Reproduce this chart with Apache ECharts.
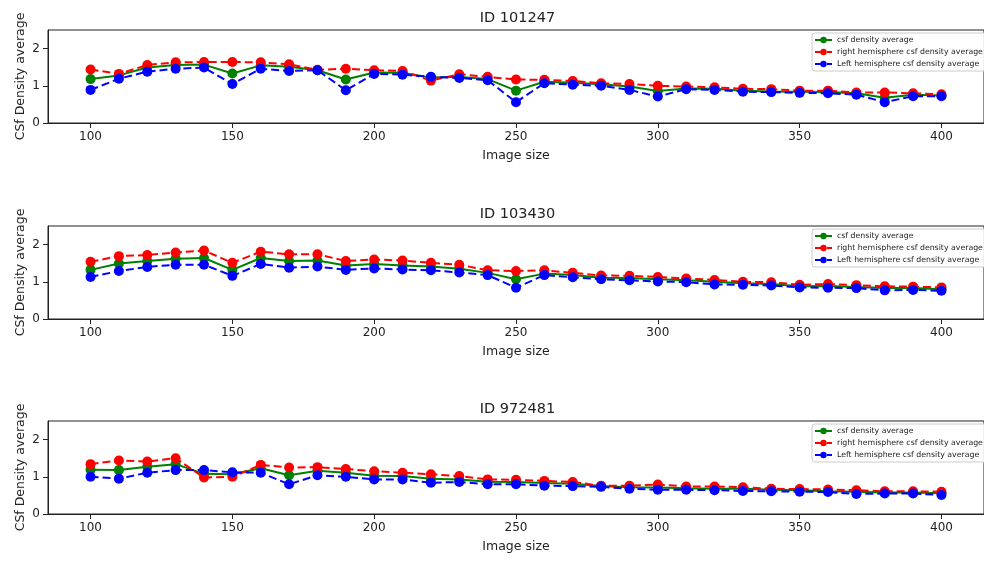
<!DOCTYPE html>
<html>
<head>
<meta charset="utf-8">
<script src="https://cdn.jsdelivr.net/npm/echarts@6/dist/echarts.min.js"></script>
<style>
  html, body { margin: 0; padding: 0; background: #fff; }
  #main { width: 984px; height: 562px; }
</style>
</head>
<body>
<div id="main"></div>
<script>
// image sizes (x axis)
const imageSizes = [100, 110, 120, 130, 140, 150, 160, 170, 180, 190, 200, 210, 220, 230, 240, 250,
  260, 270, 280, 290, 300, 310, 320, 330, 340, 350, 360, 370, 380, 390, 400];
const xTicks = [100, 150, 200, 250, 300, 350, 400];
const yTicks = [0, 1, 2];

const subjectIds = ['ID 101247', 'ID 103430', 'ID 972481'];
const seriesNames = ['csf density average', 'right hemisphere csf density average', 'Left hemisphere csf density average'];

// ID 101247
const avg101247 = [1.18, 1.28, 1.49, 1.56, 1.57, 1.33, 1.55, 1.51, 1.42, 1.17, 1.36, 1.35, 1.22, 1.24, 1.18, 0.87,
  1.11, 1.08, 1.04, 0.98, 0.86, 0.93, 0.92, 0.87, 0.85, 0.84, 0.83, 0.80, 0.68, 0.76, 0.74];
const right101247 = [1.44, 1.32, 1.56, 1.63, 1.64, 1.64, 1.63, 1.58, 1.43, 1.46, 1.42, 1.40, 1.14, 1.31, 1.24, 1.17,
  1.16, 1.13, 1.07, 1.05, 1.00, 0.98, 0.96, 0.92, 0.91, 0.87, 0.87, 0.82, 0.82, 0.80, 0.77];
const left101247 = [0.89, 1.19, 1.38, 1.46, 1.49, 1.05, 1.46, 1.40, 1.42, 0.88, 1.32, 1.30, 1.24, 1.21, 1.15, 0.56,
  1.07, 1.03, 1.00, 0.89, 0.71, 0.91, 0.89, 0.84, 0.83, 0.81, 0.80, 0.76, 0.56, 0.72, 0.72];

// ID 103430
const avg103430 = [1.32, 1.49, 1.56, 1.62, 1.64, 1.32, 1.64, 1.56, 1.57, 1.44, 1.48, 1.44, 1.41, 1.35, 1.24, 1.07,
  1.22, 1.18, 1.11, 1.10, 1.07, 1.04, 1.00, 0.96, 0.94, 0.88, 0.89, 0.86, 0.83, 0.83, 0.80];
const right103430 = [1.54, 1.69, 1.72, 1.79, 1.84, 1.51, 1.81, 1.74, 1.74, 1.56, 1.60, 1.57, 1.51, 1.46, 1.31, 1.29,
  1.31, 1.24, 1.17, 1.16, 1.13, 1.09, 1.05, 1.00, 0.99, 0.92, 0.94, 0.91, 0.88, 0.87, 0.85];
const left103430 = [1.13, 1.29, 1.40, 1.46, 1.46, 1.16, 1.48, 1.38, 1.41, 1.32, 1.36, 1.33, 1.31, 1.25, 1.18, 0.84,
  1.18, 1.12, 1.07, 1.04, 1.01, 0.99, 0.93, 0.92, 0.90, 0.85, 0.84, 0.83, 0.77, 0.78, 0.76];

// ID 972481
const avg972481 = [1.19, 1.18, 1.27, 1.34, 1.08, 1.07, 1.23, 1.04, 1.16, 1.11, 1.03, 1.02, 0.95, 0.93, 0.87, 0.86,
  0.83, 0.81, 0.75, 0.72, 0.71, 0.69, 0.68, 0.68, 0.65, 0.64, 0.61, 0.60, 0.58, 0.58, 0.56];
const right972481 = [1.34, 1.44, 1.41, 1.50, 0.98, 1.00, 1.32, 1.25, 1.26, 1.21, 1.15, 1.11, 1.07, 1.02, 0.93, 0.92,
  0.89, 0.86, 0.76, 0.76, 0.79, 0.74, 0.74, 0.72, 0.68, 0.67, 0.66, 0.64, 0.61, 0.61, 0.60];
const left972481 = [1.00, 0.95, 1.11, 1.18, 1.18, 1.12, 1.11, 0.80, 1.04, 1.00, 0.93, 0.93, 0.84, 0.86, 0.80, 0.80,
  0.76, 0.75, 0.73, 0.68, 0.65, 0.65, 0.64, 0.62, 0.61, 0.60, 0.59, 0.54, 0.55, 0.55, 0.51];

const subjectData = [
  [avg101247, right101247, left101247],
  [avg103430, right103430, left103430],
  [avg972481, right972481, left972481]
];

const colors = ['#008000', '#ff0000', '#0000ff'];
const lineTypes = ['solid', [8, 4], [8, 4]];
const gridTops = [30, 226, 421];
const plotLeft = 48, plotWidth = 939, plotHeight = 93;
const font = 'DejaVu Sans';
const textColor = '#222';

function pairs(values) {
  return values.map((v, i) => [imageSizes[i], v]);
}

const grids = [], xAxes = [], yAxes = [], series = [], legends = [], graphics = [];

gridTops.forEach((top, g) => {
  grids.push({
    left: plotLeft, top: top, width: plotWidth, height: plotHeight,
    show: true, borderColor: '#222', borderWidth: 1, backgroundColor: '#fff'
  });
  xAxes.push({
    type: 'value', gridIndex: g, min: 85, max: 415,
    name: 'Image size', nameLocation: 'middle', nameGap: 26,
    nameMoveOverlap: false,
    nameTextStyle: { fontFamily: font, fontSize: 12.5, color: textColor },
    axisLine: { show: true, onZero: false, lineStyle: { color: '#222', width: 1 } },
    axisTick: { show: true, length: 5, customValues: xTicks, lineStyle: { color: '#222' } },
    axisLabel: { customValues: xTicks, margin: 8, fontFamily: font, fontSize: 12, color: textColor },
    splitLine: { show: false }
  });
  yAxes.push({
    type: 'value', gridIndex: g, min: 0, max: 2.5,
    name: 'CSf Density average', nameLocation: 'middle', nameGap: 21,
    nameMoveOverlap: false,
    nameTextStyle: { fontFamily: font, fontSize: 12.5, color: textColor },
    axisLine: { show: true, lineStyle: { color: '#222', width: 1 } },
    axisTick: { show: true, length: 5, customValues: yTicks, lineStyle: { color: '#222' } },
    axisLabel: { customValues: yTicks, margin: 8, fontFamily: font, fontSize: 12, color: textColor },
    splitLine: { show: false }
  });
  subjectData[g].forEach((vals, s) => {
    series.push({
      name: seriesNames[s],
      type: 'line',
      xAxisIndex: g, yAxisIndex: g,
      data: pairs(vals),
      symbol: 'circle', symbolSize: 10,
      itemStyle: { color: colors[s] },
      lineStyle: { color: colors[s], width: 2, type: lineTypes[s] },
      z: 2 + s
    });
  });
  legends.push({
    orient: 'vertical', left: 812, top: top + 3,
    data: seriesNames,
    itemWidth: 17, itemHeight: 8, itemGap: 4,
    padding: [3, 4, 3, 2],
    backgroundColor: 'rgba(255,255,255,0.85)',
    borderColor: '#ccc', borderWidth: 1, borderRadius: 3,
    textStyle: { fontFamily: font, fontSize: 7.8, color: textColor, padding: [0, 0, 0, 0] },
    selectedMode: false
  });
  graphics.push({
    type: 'text',
    x: plotLeft + plotWidth / 2, y: top - 4,
    style: {
      text: subjectIds[g], fontFamily: font, fontSize: 14.5, fill: textColor,
      textAlign: 'center', textVerticalAlign: 'bottom'
    }
  });
});

const chart = echarts.init(document.getElementById('main'), null, { renderer: 'canvas' });
chart.setOption({
  animation: false,
  backgroundColor: '#fff',
  grid: grids,
  xAxis: xAxes,
  yAxis: yAxes,
  legend: legends,
  graphic: graphics,
  series: series
});
</script>
</body>
</html>
